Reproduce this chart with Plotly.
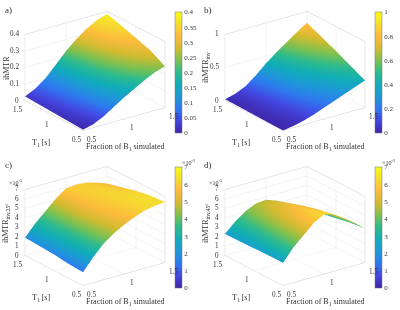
import plotly.graph_objects as go

W, H = 400, 310
B1 = [0.5, 0.625, 0.75, 0.875, 1.0, 1.125, 1.25, 1.375, 1.5]
T1 = [0.5, 0.75, 1.0, 1.25, 1.5]

Z_A = [[.005, .02, .05, .09, .13, .165, .20, .23, .25],
       [.01, .03, .065, .115, .165, .21, .25, .28, .30],
       [.015, .04, .08, .135, .19, .24, .28, .31, .33],
       [.02, .05, .09, .15, .21, .265, .31, .34, .36],
       [.025, .055, .10, .165, .23, .285, .33, .365, .385]]
Z_B = [[0, .025, .06, .11, .17, .23, .29, .35, .41],
       [.005, .035, .08, .145, .22, .295, .37, .445, .52],
       [.01, .04, .09, .175, .28, .37, .46, .55, .63],
       [.015, .05, .11, .21, .33, .44, .55, .64, .73],
       [.02, .06, .13, .25, .39, .51, .62, .73, .83]]
Z_C = [[1.4, 2.7, 3.8, 4.6, 5.2, 5.7, 6.1, 6.3, 6.4],
       [1.5, 2.8, 3.9, 4.8, 5.5, 5.9, 6.2, 6.3, 6.3],
       [1.7, 2.9, 4.0, 5.0, 5.7, 6.0, 6.2, 6.15, 6.0],
       [1.8, 3.0, 4.05, 5.05, 5.8, 6.05, 6.1, 5.9, 5.6],
       [1.9, 3.1, 4.1, 5.1, 5.9, 6.0, 5.9, 5.6, 5.2]]
Z_D = [[2.4, 3.7, 4.7, 5.7, 6.3, 6.0, 5.3, 4.5, 3.6],
       [2.4, 3.6, 4.6, 5.5, 6.0, 5.7, 5.0, 4.2, 3.4],
       [2.35, 3.5, 4.5, 5.2, 5.6, 5.3, 4.6, 3.9, 3.1],
       [2.3, 3.4, 4.3, 4.9, 5.2, 4.8, 4.1, 3.4, 2.8],
       [2.3, 3.3, 4.1, 4.6, 4.7, 4.3, 3.5, 3.0, 2.5]]

XY_TICKS = [0.5, 1, 1.5]
Z_TICKS_A = [0, 0.1, 0.2, 0.3, 0.4]
Z_TICKS_B = [0, 0.5, 1]
Z_TICKS_CD = [0, 1, 2, 3, 4, 5, 6, 7]
CB_TICKS_A = [0, 0.05, 0.1, 0.15, 0.2, 0.25, 0.3, 0.35, 0.4]
CB_TICKS_B = [0, 0.2, 0.4, 0.6, 0.8, 1]
CB_TICKS_CD = [0, 1, 2, 3, 4, 5, 6, 7]
LETTERS = ["a)", "b)", "c)", "d)"]
ZLABELS = ["ihMTR", "ihMTR<sub>inv</sub>", "ihMTR<sub>inv,25°</sub>", "ihMTR<sub>inv,45°</sub>"]

PARULA = [[0.0, "#3e26a8"], [0.1, "#4346e0"], [0.2, "#2f78f0"], [0.3, "#1f98d8"],
          [0.4, "#10adb8"], [0.5, "#2dbb8e"], [0.6, "#7dc150"], [0.7, "#d2bb30"],
          [0.8, "#fcbb3c"], [0.9, "#f5dc30"], [1.0, "#f9fb15"]]

FONT = "Liberation Serif"
INK = "#333333"
fig = go.Figure()
panels = [
    (Z_A, 0.4, Z_TICKS_A, CB_TICKS_A, 0, 0),
    (Z_B, 1.0, Z_TICKS_B, CB_TICKS_B, 200, 0),
    (Z_C, 7.0, Z_TICKS_CD, CB_TICKS_CD, 0, 155),
    (Z_D, 7.0, Z_TICKS_CD, CB_TICKS_CD, 200, 155),
]
anns = []
def ann(text, px, py, size=8, angle=0):
    anns.append(dict(text=text, x=px / W, y=1 - py / H, xref="paper", yref="paper",
                     showarrow=False, textangle=angle, xanchor="center", yanchor="middle",
                     font=dict(family=FONT, size=size, color=INK)))

def tick(x, y, z, text, xs, ys, anchor="center"):
    return dict(x=x, y=y, z=z, text=str(text), showarrow=False, xshift=xs, yshift=ys,
                xanchor=anchor, yanchor="middle", font=dict(family=FONT, size=7.2, color=INK))

SCALE = 1.43
for i, (z, zmax, zticks, cbticks, dx, dy) in enumerate(panels):
    name = "scene" if i == 0 else f"scene{i+1}"
    fig.add_trace(go.Surface(
        x=B1, y=T1, z=z, scene=name, cmin=0, cmax=zmax, colorscale=PARULA,
        lighting=dict(ambient=1, diffuse=0, specular=0, roughness=1, fresnel=0),
        hoverinfo="skip",
        colorbar=dict(
            x=(175 + dx) / W, xanchor="left", y=1 - (12 + dy) / H, yanchor="top",
            lenmode="pixels", len=121, thicknessmode="pixels", thickness=7,
            tickvals=cbticks, ticks="", outlinecolor="#777", outlinewidth=0.5,
            xpad=0, ypad=0, tickfont=dict(family=FONT, size=7, color=INK)),
    ))
    axis = dict(showbackground=False, gridcolor="#e8e8e8", gridwidth=1, showline=True,
                linecolor="#cccccc", linewidth=1, zeroline=False, showspikes=False, mirror=True,
                title=dict(text=""), ticks="", showticklabels=False)
    ticks3d = ([tick(v, 0.5, 0, v, 8, -9) for v in XY_TICKS]
               + [tick(0.5, v, 0, v, -7, -9) for v in XY_TICKS]
               + [tick(0.5, 1.5, v, v, -4, 0, "right") for v in zticks])
    cx, cy = 95 + dx, 71 + dy
    fig.update_layout(**{name: dict(
        domain=dict(x=[(cx - 90) / W, (cx + 90) / W], y=[1 - (cy + 70) / H, 1 - (cy - 70) / H]),
        xaxis=dict(axis, range=[0.5, 1.5], tickvals=XY_TICKS),
        yaxis=dict(axis, range=[0.5, 1.5], tickvals=XY_TICKS),
        zaxis=dict(axis, range=[0, zmax], tickvals=zticks),
        annotations=ticks3d,
        aspectmode="manual", aspectratio=dict(x=1.018 * SCALE, y=0.978 * SCALE, z=0.714 * SCALE),
        camera=dict(eye=dict(x=-0.5485 * 1.3, y=-0.7446 * 1.3, z=0.381 * 1.3),
                    center=dict(x=0, y=0, z=0), up=dict(x=0, y=0, z=1),
                    projection=dict(type="orthographic")),
    )})
    ann(LETTERS[i], 8 + dx, 10 + dy, 9)
    ann("Fraction of B<sub>1</sub> simulated", 125 + dx, 146.5 + dy, 8)
    ann("T<sub>1</sub> [s]", 41 + dx, 142.5 + dy, 8)
    ann(ZLABELS[i], 6 + dx, 68 + dy, 8, -90)
    if i >= 2:
        ann("×10<sup>-3</sup>", 15 + dx, 27 + dy, 6)
        ann("×10<sup>-3</sup>", 188 + dx, 7 + dy, 6)

fig.update_layout(width=W, height=H, margin=dict(l=0, r=0, t=0, b=0, autoexpand=False),
                  paper_bgcolor="white", showlegend=False, annotations=anns)
fig.write_html("out.html", config={"displayModeBar": False},
               post_script="document.body.style.margin='0';document.documentElement.style.overflow='hidden';")
